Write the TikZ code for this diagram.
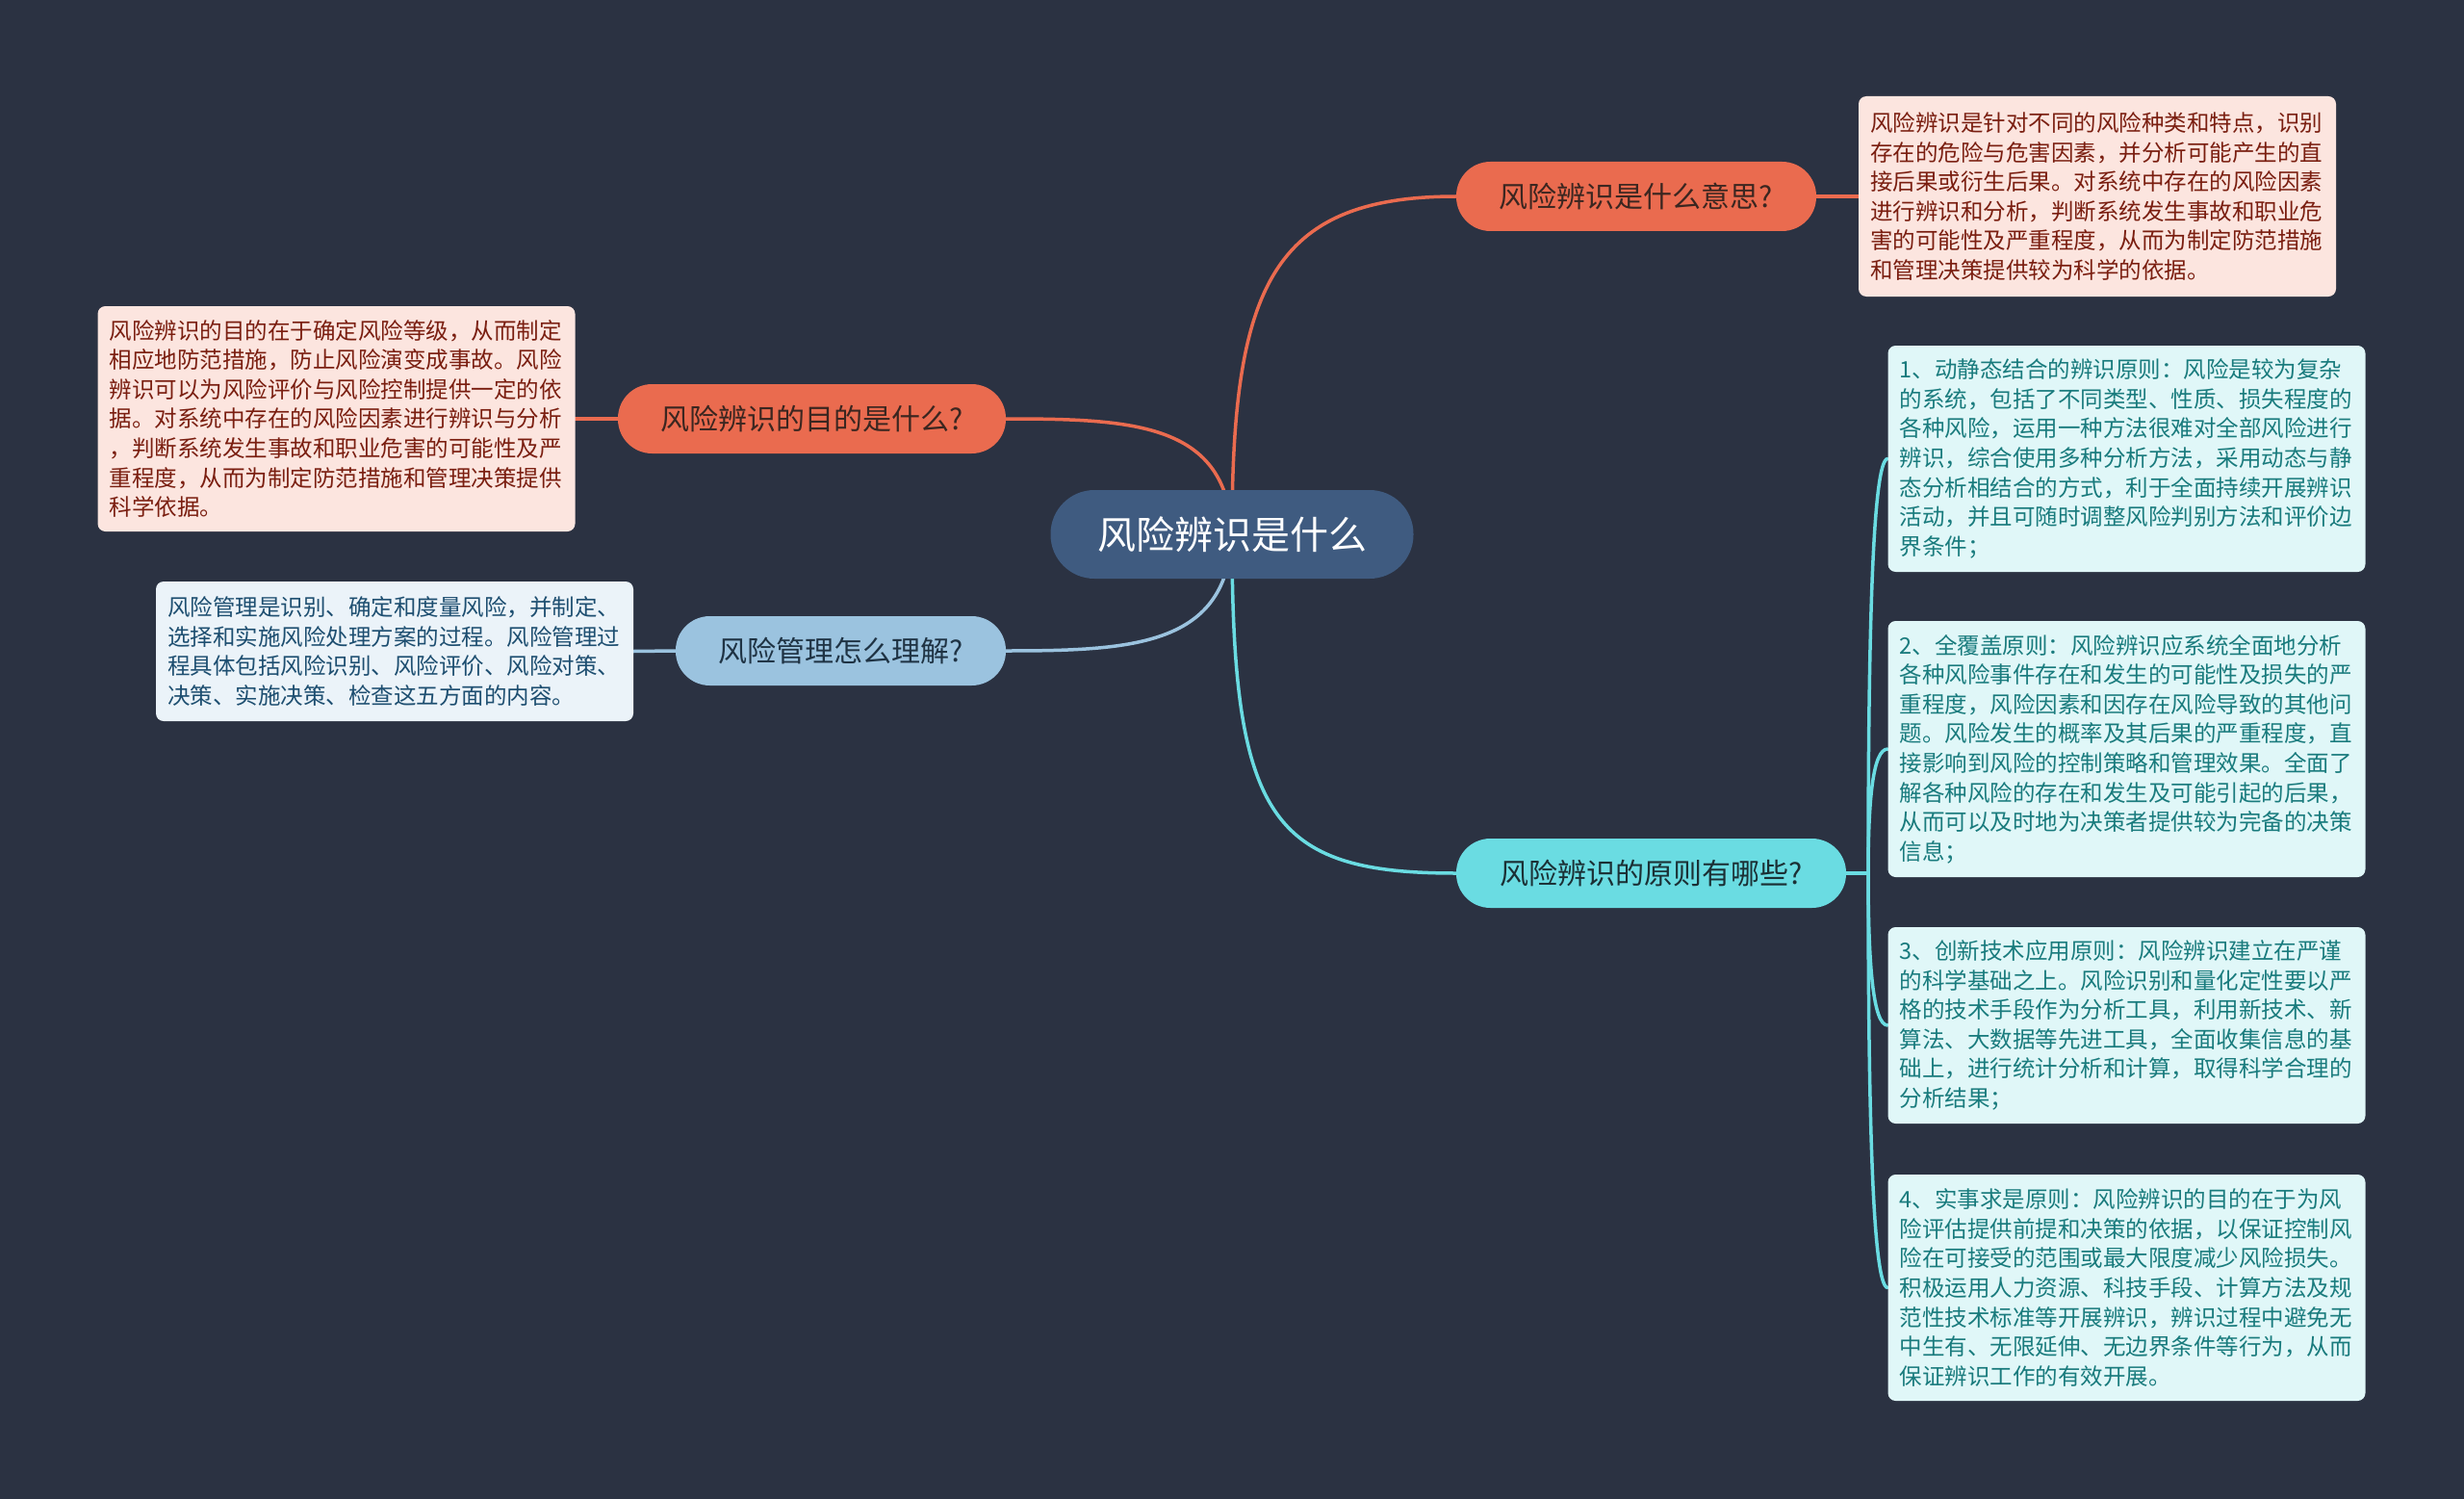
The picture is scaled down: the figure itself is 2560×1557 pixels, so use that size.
\documentclass[tikz,border=0pt]{standalone}
\usepackage{fontspec}
\newfontfamily\cjk{Noto Sans CJK SC}
\pgfdeclarelayer{back}
\pgfdeclarelayer{edges}
\pgfsetlayers{back,edges,main}
\definecolor{bgc}{HTML}{2B3242}
\definecolor{rootc}{HTML}{3F5B80}
\definecolor{coral}{HTML}{EA6B4F}
\definecolor{lblue}{HTML}{9BC3DF}
\definecolor{cyanc}{HTML}{6ADCE2}
\definecolor{pinkfill}{HTML}{FCE5DF}
\definecolor{pinktext}{HTML}{7A1E10}
\definecolor{bluefill}{HTML}{EBF3F9}
\definecolor{bluetext}{HTML}{1D4E70}
\definecolor{cyanfill}{HTML}{E0F7F8}
\definecolor{cyantext}{HTML}{197B7D}
\definecolor{coraltext}{HTML}{3B2620}
\definecolor{lbluetext}{HTML}{1F3344}
\definecolor{cyantitle}{HTML}{1B3035}
\begin{document}
\begin{tikzpicture}[x=1pt,y=-1pt,
  rootnode/.style={fill=rootc, text=white, rounded corners=45.5pt, minimum height=92pt, minimum width=377pt, inner sep=0pt, font=\cjk\fontsize{40}{48}\selectfont},
  topic/.style={rounded corners=35.5pt, minimum height=72pt, inner sep=0pt, font=\cjk\fontsize{30}{36}\selectfont},
  coraltopic/.style={topic, fill=coral, text=coraltext},
  bluetopic/.style={topic, fill=lblue, text=lbluetext},
  cyantopic/.style={topic, fill=cyanc, text=cyantitle},
  note/.style={rounded corners=8pt, inner xsep=12pt, inner ysep=0pt, text width=472pt, align=left, font=\cjk\fontsize{23.5}{30.6}\selectfont},
  pinknote/.style={note, fill=pinkfill, text=pinktext},
  bluenote/.style={note, fill=bluefill, text=bluetext},
  cyannote/.style={note, fill=cyanfill, text=cyantext},
  conn/.style={line width=3.5pt, line cap=round},
  coralline/.style={conn, draw=coral},
  blueline/.style={conn, draw=lblue},
  cyanline/.style={conn, draw=cyanc}
]
\useasboundingbox (0,0) rectangle (2560,1557);
\begin{pgfonlayer}{back}
\fill[bgc] (0,0) rectangle (2560,1557);
\end{pgfonlayer}

% root
\node[rootnode] (root) at (1280,555) {风险辨识是什么};

% topics
\node[coraltopic, minimum width=374pt] (yisi) at (1700,204) {风险辨识是什么意思?};
\node[coraltopic, minimum width=403pt] (mudi) at (843.5,435) {风险辨识的目的是什么?};
\node[bluetopic, minimum width=343pt] (guanli) at (873.5,676) {风险管理怎么理解?};
\node[cyantopic, minimum width=405pt] (yuanze) at (1715.5,907) {风险辨识的原则有哪些?};

% notes
\node[pinknote, minimum height=208pt] (boxA) at (2179,204) {风险辨识是针对不同的风险种类和特点，识别\\
存在的危险与危害因素，并分析可能产生的直\\
接后果或衍生后果。对系统中存在的风险因素\\
进行辨识和分析，判断系统发生事故和职业危\\
害的可能性及严重程度，从而为制定防范措施\\
和管理决策提供较为科学的依据。};

\node[pinknote, minimum height=234pt] (boxB) at (349.5,435) {风险辨识的目的在于确定风险等级，从而制定\\
相应地防范措施，防止风险演变成事故。风险\\
辨识可以为风险评价与风险控制提供一定的依\\
据。对系统中存在的风险因素进行辨识与分析\\
，判断系统发生事故和职业危害的可能性及严\\
重程度，从而为制定防范措施和管理决策提供\\
科学依据。};

\node[bluenote, minimum height=145pt] (boxC) at (410,676.5) {风险管理是识别、确定和度量风险，并制定、\\
选择和实施风险处理方案的过程。风险管理过\\
程具体包括风险识别、风险评价、风险对策、\\
决策、实施决策、检查这五方面的内容。};

\node[cyannote, minimum height=235pt] (r1) at (2209.5,476.5) {1、动静态结合的辨识原则：风险是较为复杂\\
的系统，包括了不同类型、性质、损失程度的\\
各种风险，运用一种方法很难对全部风险进行\\
辨识，综合使用多种分析方法，采用动态与静\\
态分析相结合的方式，利于全面持续开展辨识\\
活动，并且可随时调整风险判别方法和评价边\\
界条件；};

\node[cyannote, minimum height=266pt] (r2) at (2209.5,778) {2、全覆盖原则：风险辨识应系统全面地分析\\
各种风险事件存在和发生的可能性及损失的严\\
重程度，风险因素和因存在风险导致的其他问\\
题。风险发生的概率及其后果的严重程度，直\\
接影响到风险的控制策略和管理效果。全面了\\
解各种风险的存在和发生及可能引起的后果，\\
从而可以及时地为决策者提供较为完备的决策\\
信息；};

\node[cyannote, minimum height=204pt] (r3) at (2209.5,1065) {3、创新技术应用原则：风险辨识建立在严谨\\
的科学基础之上。风险识别和量化定性要以严\\
格的技术手段作为分析工具，利用新技术、新\\
算法、大数据等先进工具，全面收集信息的基\\
础上，进行统计分析和计算，取得科学合理的\\
分析结果；};

\node[cyannote, minimum height=235pt] (r4) at (2209.5,1337.5) {4、实事求是原则：风险辨识的目的在于为风\\
险评估提供前提和决策的依据，以保证控制风\\
险在可接受的范围或最大限度减少风险损失。\\
积极运用人力资源、科技手段、计算方法及规\\
范性技术标准等开展辨识，辨识过程中避免无\\
中生有、无限延伸、无边界条件等行为，从而\\
保证辨识工作的有效开展。};

\coordinate (spine) at (1941,907);

\begin{pgfonlayer}{edges}
% root to topics
\draw[coralline] (root.center) .. controls (1280,300) and (1320,204) .. (yisi.west);
\draw[coralline] (root.center) .. controls (1275,440) and (1180,435) .. (mudi.east);
\draw[blueline] (root.center) .. controls (1275,670) and (1180,676) .. (guanli.east);
\draw[cyanline] (root.center) .. controls (1280,850) and (1320,907) .. (yuanze.west);
% topics to notes
\draw[coralline] (yisi.east) -- (boxA.west);
\draw[coralline] (mudi.west) -- (boxB.east);
\draw[blueline] (guanli.west) -- (boxC.east);
\draw[cyanline] (yuanze.east) -- (spine);
\draw[cyanline] (spine) .. controls (1941,648.7) and (1946,476.5) .. (r1.west);
\draw[cyanline] (spine) .. controls (1941,829.6) and (1946,778) .. (r2.west);
\draw[cyanline] (spine) .. controls (1941,1001.8) and (1946,1065) .. (r3.west);
\draw[cyanline] (spine) .. controls (1941,1165.3) and (1946,1337.5) .. (r4.west);
\end{pgfonlayer}
\end{tikzpicture}
\end{document}
